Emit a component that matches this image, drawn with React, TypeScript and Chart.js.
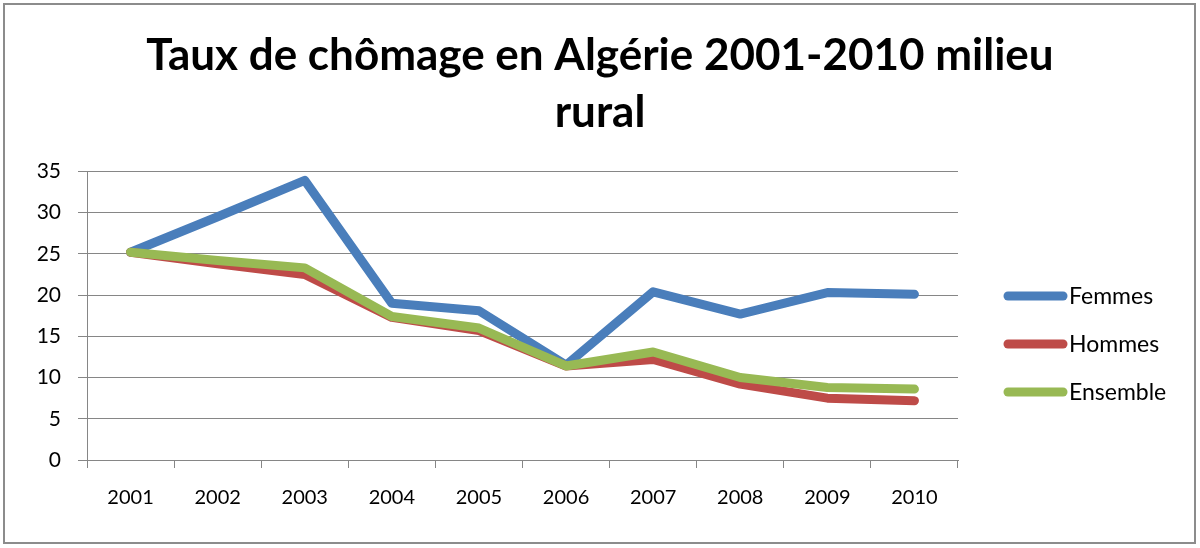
import React, { useEffect, useRef } from "react";
import { Chart, registerables } from "chart.js";

Chart.register(...registerables);

const years = ["2001", "2002", "2003", "2004", "2005", "2006", "2007", "2008", "2009", "2010"];
const femmes = [25.2, 29.5, 33.9, 19.0, 18.1, 11.5, 20.4, 17.7, 20.3, 20.1];
const hommes = [25.2, 23.8, 22.5, 17.3, 15.7, 11.4, 12.2, 9.2, 7.5, 7.2];
const ensemble = [25.2, 24.2, 23.3, 17.4, 16.0, 11.4, 13.1, 10.0, 8.8, 8.6];
const seriesNames = ["Femmes", "Hommes", "Ensemble"];
const seriesColors = ["#4A7EBB", "#BE4B48", "#98B954"];
const titleLines = ["Taux de chômage en Algérie 2001-2010 milieu", "rural"];

const FONT = "Lato, 'Open Sans', sans-serif";

const frameAndLegend = {
  id: "frameAndLegend",
  afterDraw(chart: any) {
    const ctx = chart.ctx;
    ctx.save();
    ctx.strokeStyle = "#8C8C8C";
    ctx.lineWidth = 2;
    ctx.strokeRect(4, 4, 1191, 539);
    const area = chart.chartArea;
    const x0 = area.right + 50;
    chart.data.datasets.forEach((ds: any, i: number) => {
      const y = 296 + i * 48;
      ctx.strokeStyle = ds.borderColor;
      ctx.lineWidth = 9;
      ctx.lineCap = "round";
      ctx.beginPath();
      ctx.moveTo(x0, y);
      ctx.lineTo(x0 + 55, y);
      ctx.stroke();
      ctx.fillStyle = "#000";
      ctx.font = `23px ${FONT}`;
      ctx.textBaseline = "middle";
      ctx.textAlign = "left";
      ctx.fillText(ds.label, x0 + 61, y + 1);
    });
    ctx.restore();
  },
};

export default function App() {
  const ref = useRef<HTMLCanvasElement>(null);
  useEffect(() => {
    document.body.style.margin = "0";
    const series = [femmes, hommes, ensemble];
    const chart = new Chart(ref.current!, {
      type: "line",
      data: {
        labels: years,
        datasets: series.map((d, i) => ({
          label: seriesNames[i],
          data: d,
          borderColor: seriesColors[i],
          backgroundColor: seriesColors[i],
          borderWidth: 9,
          pointRadius: 0,
          borderCapStyle: "round",
          borderJoinStyle: "round",
          tension: 0,
          order: 2 - i,
          yAxisID: "y",
        })),
      },
      options: {
        animation: false,
        responsive: false,
        layout: { padding: { left: 0, right: 0, top: 0, bottom: 20 } },
        plugins: {
          legend: { display: false },
          tooltip: { enabled: false },
          title: {
            display: true,
            text: titleLines,
            color: "#000",
            font: { family: FONT, size: 44, weight: "bold", lineHeight: 1.3 },
            padding: { top: 27, bottom: 30 },
          },
        },
        scales: {
          x: {
            offset: true,
            grid: {
              offset: true,
              drawOnChartArea: false,
              drawTicks: true,
              tickLength: 8,
              color: "#868686",
            },
            border: { color: "#868686", width: 1 },
            ticks: { color: "#000", font: { family: FONT, size: 20 }, padding: 18, maxRotation: 0 },
          },
          y: {
            min: 0,
            max: 35,
            ticks: { stepSize: 5, color: "#000", font: { family: FONT, size: 21 }, padding: 17 },
            grid: { color: "#868686", tickLength: 9, lineWidth: 1 },
            border: { color: "#868686", width: 1 },
            afterFit: (scale: any) => {
              scale.width = 87;
            },
          },
          spacer: {
            position: "right",
            display: true,
            grid: { display: false, drawTicks: false },
            border: { display: false },
            ticks: { display: false },
            afterFit: (scale: any) => {
              scale.width = 242;
            },
          },
        },
      },
      plugins: [frameAndLegend],
    });
    return () => chart.destroy();
  }, []);
  return (
    <div style={{ position: "absolute", left: 0, top: 0, width: 1200, height: 548, background: "#fff" }}>
      <canvas ref={ref} width={1200} height={548} style={{ width: 1200, height: 548 }} />
    </div>
  );
}
